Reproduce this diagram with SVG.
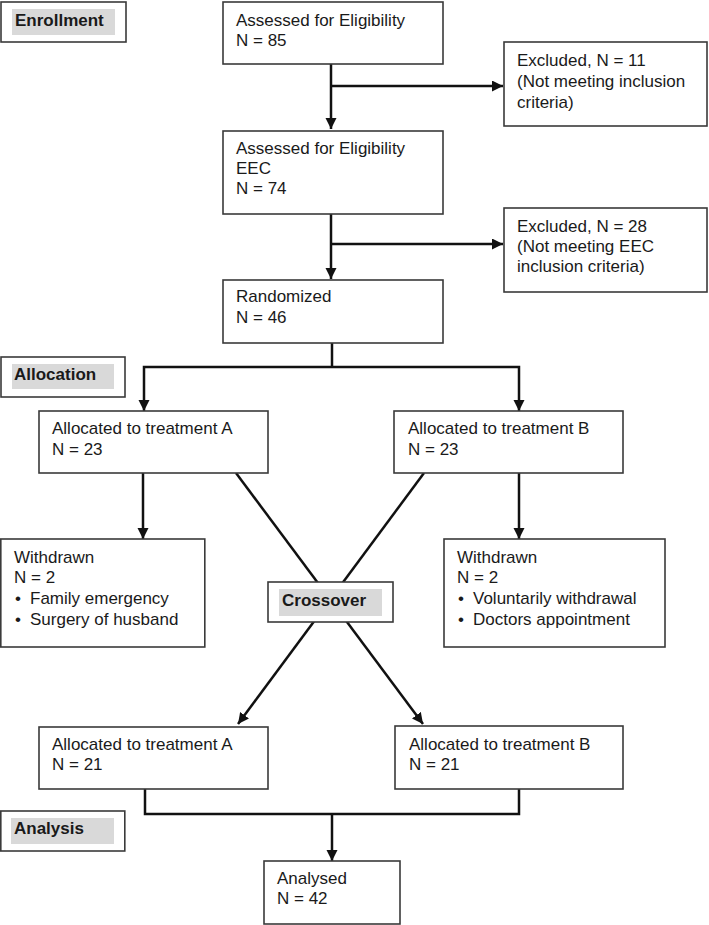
<svg xmlns="http://www.w3.org/2000/svg" width="709" height="925" viewBox="0 0 709 925">
<style>
.box{fill:#fff;stroke:#3a3a3a;stroke-width:1.6}
.hl{fill:#d9d9d9}
.t{font-family:"Liberation Sans",Arial,sans-serif;font-size:17px;fill:#1a1a1a}
.b{font-family:"Liberation Sans",Arial,sans-serif;font-size:17px;font-weight:bold;fill:#1a1a1a}
.c{fill:none;stroke:#111;stroke-width:2.5}
.ca{fill:none;stroke:#111;stroke-width:2.5;marker-end:url(#ah)}
</style>
<defs>
<marker id="ah" markerUnits="userSpaceOnUse" markerWidth="12" markerHeight="12" refX="11" refY="5.5" orient="auto">
<path d="M0,0 L11,5.5 L0,11 z" fill="#111"/>
</marker>
</defs>
<g id="connectors">
<path class="ca" d="M331,64 V129"/>
<path class="ca" d="M331,86 H503"/>
<path class="ca" d="M331,214 V279"/>
<path class="ca" d="M331,244 H503"/>
<path class="c" d="M332,343 V367"/>
<path class="ca" d="M332,367 H144 V411"/>
<path class="ca" d="M332,367 H519 V411"/>
<path class="ca" d="M143,473 V539"/>
<path class="ca" d="M519,473 V539"/>
<path class="ca" d="M236,473 L423,724"/>
<path class="ca" d="M424,473 L238,724"/>
<path class="c" d="M145,789 V814 H519 V789"/>
<path class="ca" d="M332,814 V861"/>
</g>
<g id="enrollment">
<rect class="box" x="1" y="2" width="125" height="40"/>
<rect class="hl" x="12" y="9" width="103" height="26"/>
<text class="b" x="15" y="26">Enrollment</text>
</g>
<g id="assessed1">
<rect class="box" x="223" y="2" width="220" height="62"/>
<text class="t" x="236" y="26">Assessed for Eligibility</text>
<text class="t" x="236" y="46">N = 85</text>
</g>
<g id="excluded1">
<rect class="box" x="504" y="42" width="203" height="84"/>
<text class="t" x="517" y="66">Excluded, N = 11</text>
<text class="t" x="517" y="87">(Not meeting inclusion</text>
<text class="t" x="517" y="108">criteria)</text>
</g>
<g id="assessed2">
<rect class="box" x="223" y="131" width="220" height="83"/>
<text class="t" x="236" y="154">Assessed for Eligibility</text>
<text class="t" x="236" y="174">EEC</text>
<text class="t" x="236" y="194">N = 74</text>
</g>
<g id="excluded2">
<rect class="box" x="504" y="208" width="203" height="84"/>
<text class="t" x="517" y="232">Excluded, N = 28</text>
<text class="t" x="517" y="252">(Not meeting EEC</text>
<text class="t" x="517" y="272">inclusion criteria)</text>
</g>
<g id="randomized">
<rect class="box" x="223" y="280" width="220" height="63"/>
<text class="t" x="236" y="302">Randomized</text>
<text class="t" x="236" y="323">N = 46</text>
</g>
<g id="allocation">
<rect class="box" x="1" y="357" width="124" height="40"/>
<rect class="hl" x="12" y="364" width="102" height="25"/>
<text class="b" x="14" y="380">Allocation</text>
</g>
<g id="allocA">
<rect class="box" x="39" y="411" width="229" height="62"/>
<text class="t" x="52" y="434">Allocated to treatment A</text>
<text class="t" x="52" y="455">N = 23</text>
</g>
<g id="allocB">
<rect class="box" x="394" y="411" width="229" height="62"/>
<text class="t" x="408" y="434">Allocated to treatment B</text>
<text class="t" x="408" y="455">N = 23</text>
</g>
<g id="withdrawnA">
<rect class="box" x="0.8" y="539" width="204" height="108"/>
<text class="t" x="14" y="563">Withdrawn</text>
<text class="t" x="14" y="583">N = 2</text>
<text class="t" x="15" y="604">•</text>
<text class="t" x="30" y="604">Family emergency</text>
<text class="t" x="15" y="625">•</text>
<text class="t" x="30" y="625">Surgery of husband</text>
</g>
<g id="withdrawnB">
<rect class="box" x="444" y="539" width="221" height="108"/>
<text class="t" x="457" y="563">Withdrawn</text>
<text class="t" x="457" y="583">N = 2</text>
<text class="t" x="458" y="604">•</text>
<text class="t" x="473" y="604">Voluntarily withdrawal</text>
<text class="t" x="458" y="625">•</text>
<text class="t" x="473" y="625">Doctors appointment</text>
</g>
<g id="crossover">
<rect class="box" x="268" y="582" width="125" height="40"/>
<rect class="hl" x="279" y="589" width="103" height="27"/>
<text class="b" x="282" y="606">Crossover</text>
</g>
<g id="allocA2">
<rect class="box" x="39" y="727" width="229" height="62"/>
<text class="t" x="52" y="750">Allocated to treatment A</text>
<text class="t" x="52" y="770">N = 21</text>
</g>
<g id="allocB2">
<rect class="box" x="395" y="726" width="228" height="63"/>
<text class="t" x="409" y="750">Allocated to treatment B</text>
<text class="t" x="409" y="770">N = 21</text>
</g>
<g id="analysis">
<rect class="box" x="0.8" y="811" width="124" height="40"/>
<rect class="hl" x="11" y="818" width="103" height="26"/>
<text class="b" x="14" y="834">Analysis</text>
</g>
<g id="analysed">
<rect class="box" x="264" y="861" width="136" height="63"/>
<text class="t" x="277" y="884">Analysed</text>
<text class="t" x="277" y="904">N = 42</text>
</g>
</svg>
